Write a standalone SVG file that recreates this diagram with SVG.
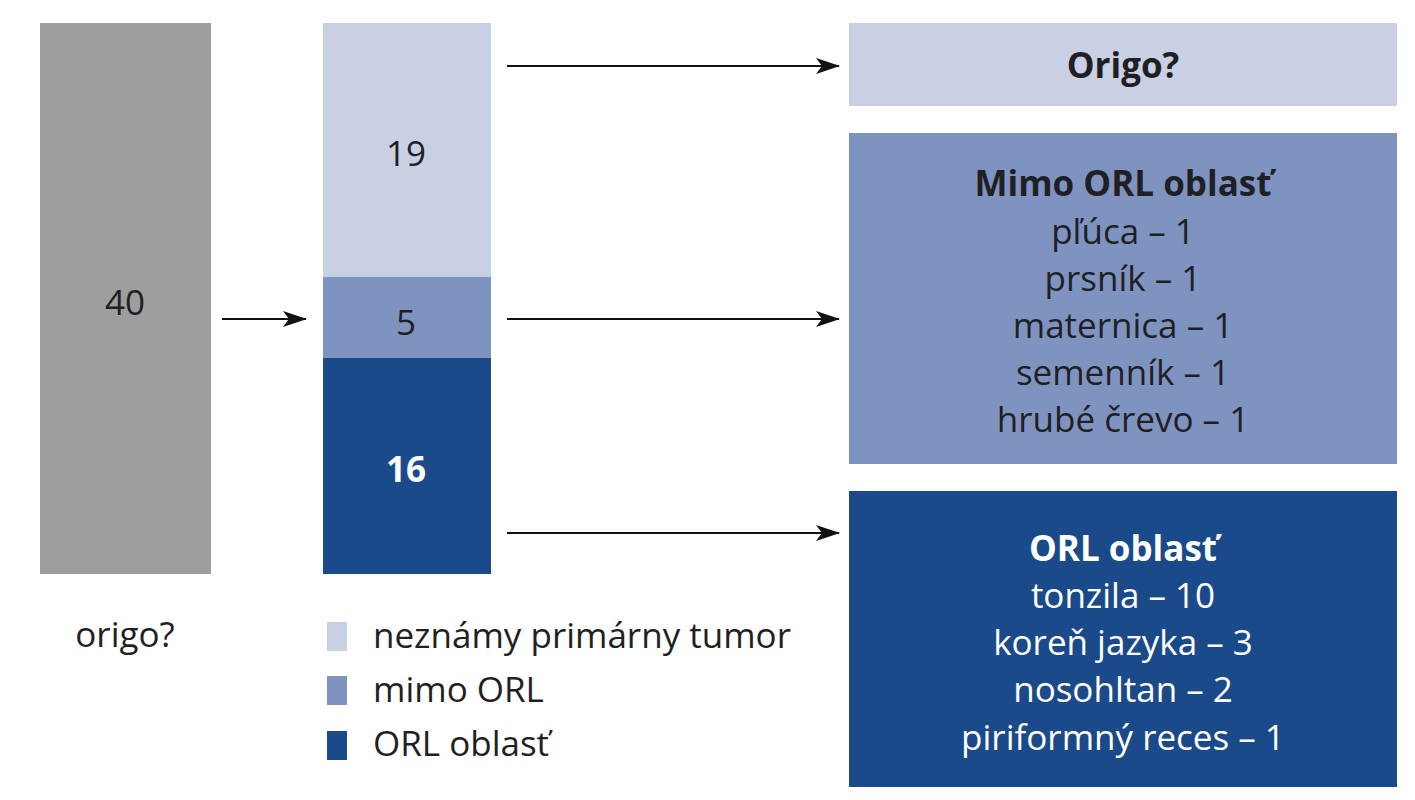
<svg xmlns="http://www.w3.org/2000/svg" width="1415" height="800" viewBox="0 0 1415 800">
<defs>
<style>
text{font-family:"Open Sans","Noto Sans","Liberation Sans",sans-serif;font-size:35px;text-anchor:middle;fill:#1f1f24}
.b{font-weight:bold}
.w{fill:#ffffff}
.l{text-anchor:start}
.c{stroke:#111;stroke-width:2.2;fill:none;marker-end:url(#ah)}
</style>
<marker id="ah" viewBox="0 0 24 16" refX="23" refY="8" markerWidth="24" markerHeight="16" markerUnits="userSpaceOnUse" orient="auto">
<path d="M0,0 L24,8 L0,16 L6,8 Z" fill="#111"/>
</marker>
</defs>
<rect width="1415" height="800" fill="#ffffff"/>
<g id="bar-total">
<rect x="40" y="23" width="171" height="551" fill="#9e9e9f"/>
<text x="125" y="315">40</text>
<text x="125" y="647">origo?</text>
</g>
<g id="bar-split">
<rect x="323" y="23" width="168" height="254" fill="#c9d0e4"/>
<rect x="323" y="277" width="168" height="81" fill="#7f93c0"/>
<rect x="323" y="358" width="168" height="216" fill="#1a4a8a"/>
<text x="406" y="166">19</text>
<text x="406" y="335">5</text>
<text x="406" y="482" class="w b">16</text>
</g>
<g id="legend">
<rect x="327" y="622" width="20" height="29" fill="#c9d0e4"/>
<rect x="327" y="676" width="20" height="29" fill="#7f93c0"/>
<rect x="327" y="731" width="20" height="29" fill="#1a4a8a"/>
<text x="373" y="648" class="l">neznámy primárny tumor</text>
<text x="373" y="702" class="l">mimo ORL</text>
<text x="373" y="756" class="l">ORL oblasť</text>
</g>
<g id="box-origo">
<rect x="849" y="23" width="548" height="83" fill="#c9d0e4"/>
<text x="1123" y="78" class="b">Origo?</text>
</g>
<g id="box-mimo">
<rect x="849" y="133" width="548" height="331" fill="#7f93c0"/>
<text x="1123" y="196" class="b">Mimo ORL oblasť</text>
<text x="1123" y="244">pľúca – 1</text>
<text x="1123" y="291">prsník – 1</text>
<text x="1123" y="338">maternica – 1</text>
<text x="1123" y="385">semenník – 1</text>
<text x="1123" y="432">hrubé črevo – 1</text>
</g>
<g id="box-orl">
<rect x="849" y="491" width="548" height="296" fill="#1a4a8a"/>
<text x="1123" y="561" class="b w">ORL oblasť</text>
<text x="1123" y="608" class="w">tonzila – 10</text>
<text x="1123" y="655" class="w">koreň jazyka – 3</text>
<text x="1123" y="702" class="w">nosohltan – 2</text>
<text x="1123" y="750" class="w">piriformný reces – 1</text>
</g>
<g id="connectors">
<line x1="222" y1="319" x2="306" y2="319" class="c"/>
<line x1="507" y1="66" x2="839" y2="66" class="c"/>
<line x1="507" y1="319" x2="839" y2="319" class="c"/>
<line x1="507" y1="533" x2="839" y2="533" class="c"/>
</g>
</svg>
